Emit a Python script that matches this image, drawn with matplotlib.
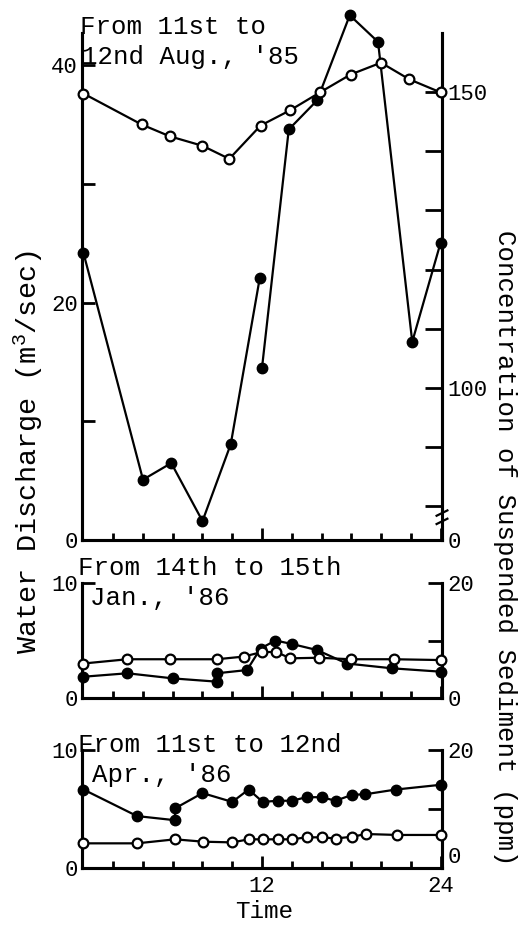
import matplotlib
matplotlib.use("Agg")
import matplotlib.pyplot as plt
import matplotlib.transforms as mtransforms

plt.rcParams['font.family'] = ['Liberation Mono', 'DejaVu Sans Mono']
plt.rcParams['mathtext.fontset'] = 'custom'
plt.rcParams['mathtext.rm'] = 'Liberation Mono'
plt.rcParams['mathtext.default'] = 'regular'

# --- 11-12 Aug '85 ---
aug_time_q = [0, 3.9, 5.8, 8.0, 9.8, 11.9, 13.9, 15.9, 17.95, 20.0, 21.9, 24]
aug_q = [37.6, 35.0, 34.0, 33.2, 32.1, 34.9, 36.2, 37.7, 39.2, 40.2, 38.8, 37.7]
aug_time_c1 = [0, 4.0, 5.9, 8.0, 9.9, 11.85]
aug_c1 = [122.8, 84.5, 87.3, 77.5, 90.5, 118.6]
aug_time_c2 = [12.0, 13.8, 15.7, 17.9, 19.8, 22.1, 24]
aug_c2 = [103.4, 143.7, 148.6, 163.0, 158.5, 107.8, 124.5]

# --- 14-15 Jan '86 ---
jan_time_q = [0, 2.95, 5.8, 8.97, 10.76, 12.0, 12.96, 13.9, 15.8, 17.95, 20.86, 24]
jan_q = [3.0, 3.37, 3.37, 3.37, 3.6, 4.0, 4.0, 3.45, 3.5, 3.37, 3.37, 3.3]
jan_time_c = [0, 2.95, 6.05, 8.97, 8.97, 10.99, 11.9, 12.9, 14.0, 15.7, 17.7, 20.75, 24]
jan_c = [3.7, 4.3, 3.4, 2.84, 4.3, 4.86, 8.6, 10.0, 9.4, 8.34, 6.0, 5.16, 4.58]

# --- 11-12 Apr '86 ---
apr_time_q = [0, 3.6, 6.15, 8.05, 10.0, 11.1, 12.05, 13.05, 14.0, 15.0, 16.0, 16.95,
              18.05, 19.0, 21.1, 24]
apr_q = [2.09, 2.09, 2.43, 2.23, 2.17, 2.43, 2.43, 2.43, 2.43, 2.6, 2.6, 2.5,
         2.65, 2.88, 2.8, 2.8]
apr_time_c = [0, 3.6, 6.15, 6.15, 8.0, 10.0, 11.1, 12.05, 13.05, 14.0, 15.0, 16.0,
              16.95, 18.05, 18.95, 21.0, 24]
apr_c = [13.3, 8.8, 8.1, 10.1, 12.7, 11.2, 13.3, 11.2, 11.4, 11.4, 12.0, 12.0,
         11.4, 12.4, 12.5, 13.3, 14.1]

W, H = 522, 926
TXT = 18.5
TCK = 16
LW = 1.6
SPW = 2.2

fig = plt.figure(figsize=(W / 100, H / 100), dpi=100)


def px_rect(x0, y0, x1, y1):
    return [x0 / W, 1 - y1 / H, (x1 - x0) / W, (y1 - y0) / H]


def open_line(ax, t, v):
    ax.plot(t, v, color='black', lw=LW, marker='o', ms=7, mfc='white',
            mec='black', mew=1.6, clip_on=False, zorder=4)


def filled_line(ax, t, v):
    ax.plot(t, v, color='black', lw=LW, marker='o', ms=7.5, clip_on=False,
            zorder=3)


def style(ax, ax2, labels_x):
    ax.set_xlim(-0.1, 24.1)
    ax.spines['top'].set_visible(False)
    ax2.spines['top'].set_visible(False)
    for a in (ax, ax2):
        for s in a.spines.values():
            s.set_linewidth(SPW)
    ax.set_xticks([12, 24])
    ax.set_xticks([2, 4, 6, 8, 10, 14, 16, 18, 20, 22], minor=True)
    ax.tick_params(axis='x', which='major', direction='in', length=9, width=2,
                   labelsize=TCK, pad=6, labelbottom=labels_x)
    ax.tick_params(axis='x', which='minor', direction='in', length=5, width=2)
    ax.tick_params(axis='y', which='both', direction='in', length=9, width=2,
                   labelsize=TCK, pad=3)
    ax2.tick_params(axis='y', which='both', direction='in', length=10, width=2,
                    labelsize=TCK, pad=4)
    ax2.zorder = ax.zorder - 1
    ax.patch.set_visible(False)


# top panel
ax1 = fig.add_axes(px_rect(82, 33, 442, 540))
ax1r = ax1.twinx()
ax1.set_ylim(0, 42.7)
ax1r.set_ylim(74.3, 160)
open_line(ax1, aug_time_q, aug_q)
filled_line(ax1r, aug_time_c1, aug_c1)
filled_line(ax1r, aug_time_c2, aug_c2)
style(ax1, ax1r, False)
ax1.set_yticks([0, 20, 40])
ax1.set_yticks([10, 30], minor=True)
ax1r.set_yticks([74.3, 80, 90, 100, 110, 120, 130, 140, 150])
ax1r.set_yticklabels(['0', '', '', '100', '', '', '', '', '150'])
ax1r.tick_params(axis='y', length=12)
# axis break on the right
br = mtransforms.blended_transform_factory(ax1r.transAxes, ax1r.transData)
ax1r.plot([1, 1], [77.2, 78.6], color='white', lw=4, transform=br, clip_on=False,
          zorder=6)
for yb in (77.0, 78.4):
    ax1r.plot([0.985, 1.015], [yb, yb + 0.9], color='black', lw=1.6,
              transform=br, clip_on=False, zorder=7)

# middle panel
ax2 = fig.add_axes(px_rect(82, 583, 442, 698))
ax2r = ax2.twinx()
ax2.set_ylim(0, 10)
ax2r.set_ylim(0, 20)
open_line(ax2, jan_time_q, jan_q)
filled_line(ax2r, jan_time_c, jan_c)
style(ax2, ax2r, False)
ax2.set_yticks([0, 10])
ax2r.set_yticks([0, 10, 20])
ax2r.set_yticklabels(['0', '', '20'])

# bottom panel
ax3 = fig.add_axes(px_rect(82, 750, 442, 868))
ax3r = ax3.twinx()
ax3.set_ylim(0, 10)
ax3r.set_ylim(0, 20)
open_line(ax3, apr_time_q, apr_q)
filled_line(ax3r, apr_time_c, apr_c)
style(ax3, ax3r, True)
ax3.set_yticks([0, 10])
ax3r.set_yticks([0, 10, 20])
ax3r.set_yticklabels(['0', '', '20'])
for lab in ax3r.get_yticklabels():
    if lab.get_text() == '0':
        lab.set_verticalalignment('bottom')

# texts
def ftext(x, y, s, size=TXT, **kw):
    fig.text(x / W, 1 - y / H, s, fontsize=size, va='center', **kw)


ftext(80, 27, "From 11st to")
ftext(82, 57, "12nd Aug., '85")
ftext(78, 568, "From 14th to 15th")
ftext(90, 598, "Jan., '86")
ftext(78, 745, "From 11st to 12nd")
ftext(92, 775, "Apr., '86")
ftext(264, 912, "Time", size=17.5, ha='center')
ftext(28, 452, "Water Discharge (m$^3$/sec)", size=20.5, ha='center', rotation=90)
ftext(505, 548, "Concentration of Suspended Sediment (ppm)", ha='center',
      rotation=270)

fig.savefig('out.png', dpi=100)
